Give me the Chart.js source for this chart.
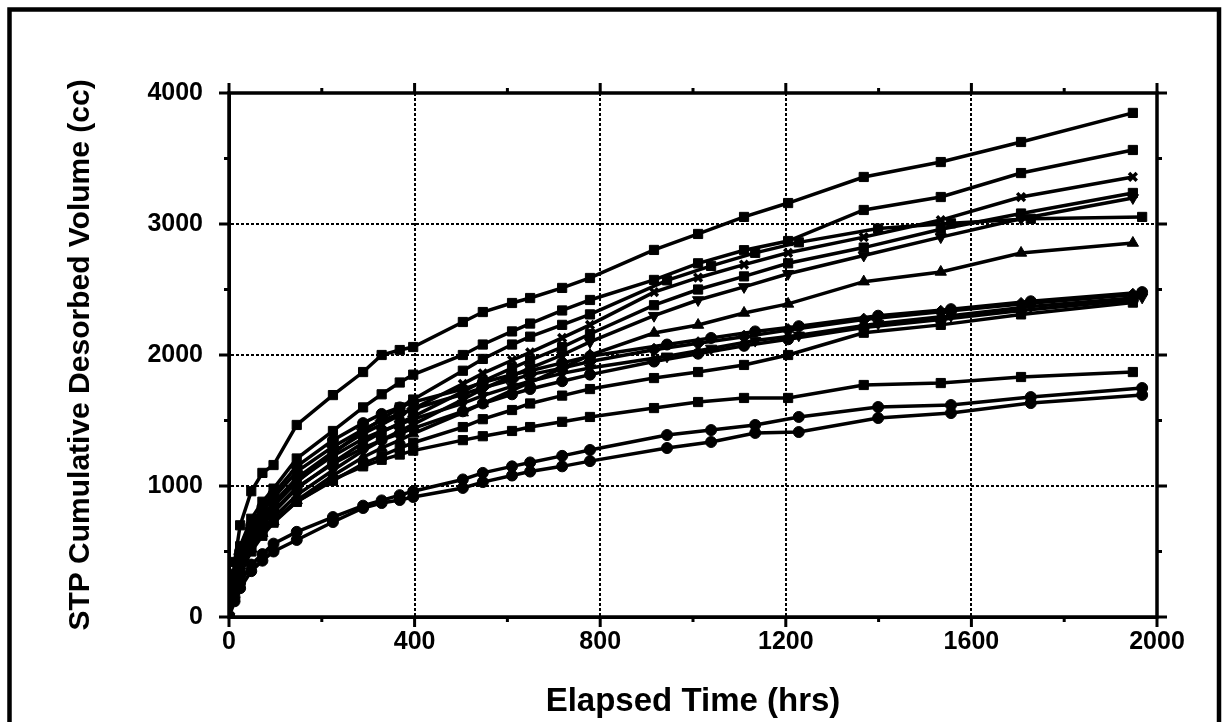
<!DOCTYPE html>
<html>
<head>
<meta charset="utf-8">
<title>STP Cumulative Desorbed Volume</title>
<script src="https://cdn.jsdelivr.net/npm/chart.js@4.4.1/dist/chart.umd.min.js"></script>
<style>
  html, body { margin: 0; padding: 0; background: #fff; }
</style>
</head>
<body>
<canvas id="chart_desorbedVolume" width="1227" height="722"></canvas>
<script>
// sample times (hrs)
var earlyHours = [0, 12, 24, 48, 72, 96, 146, 224, 289, 329, 368, 397, 504, 547, 610, 649, 718, 778];
var lateHoursA = [916, 1011, 1110, 1205, 1368, 1534, 1707, 1948];
var lateHoursB = [944, 1039, 1134, 1228, 1399, 1556, 1728, 1968];

// cumulative desorbed volume (cc), early part + late part
var seriesA  = [0, 420, 700, 960, 1100, 1160, 1466, 1694, 1870, 2000, 2038, 2061, 2252, 2328, 2397, 2435, 2512, 2588, 2802, 2924, 3054, 3160, 3359, 3473, 3626, 3848];
var seriesB  = [0, 330, 540, 750, 880, 980, 1210, 1420, 1600, 1700, 1790, 1850, 2000, 2080, 2180, 2240, 2340, 2420, 2573, 2700, 2800, 2870, 3107, 3206, 3389, 3565];
var seriesC  = [0, 250, 430, 640, 770, 870, 1060, 1260, 1400, 1470, 1540, 1590, 1780, 1860, 1960, 2020, 2130, 2230, 2480, 2590, 2690, 2780, 2900, 3030, 3206, 3359];
var seriesD  = [0, 220, 380, 580, 700, 800, 980, 1180, 1330, 1410, 1480, 1530, 1720, 1800, 1900, 1960, 2060, 2160, 2380, 2500, 2600, 2700, 2820, 2960, 3080, 3237];
var seriesE  = [0, 200, 350, 540, 660, 760, 930, 1120, 1270, 1350, 1420, 1470, 1660, 1740, 1840, 1900, 2000, 2100, 2300, 2420, 2520, 2620, 2760, 2900, 3040, 3199];
var seriesF  = [0, 240, 420, 620, 750, 850, 1030, 1250, 1420, 1510, 1600, 1660, 1880, 1970, 2080, 2140, 2230, 2310, 2570, 2680, 2780, 2860, 2965, 3005, 3040, 3054];
var seriesG  = [0, 200, 340, 520, 640, 730, 890, 1080, 1220, 1290, 1350, 1400, 1560, 1630, 1730, 1790, 1900, 2000, 2168, 2229, 2321, 2390, 2560, 2634, 2779, 2855];
var seriesH1 = [0, 300, 500, 700, 840, 940, 1150, 1350, 1480, 1550, 1600, 1640, 1740, 1790, 1850, 1880, 1940, 1990, 2080, 2130, 2180, 2220, 2300, 2350, 2410, 2480];
var seriesH2 = [0, 280, 480, 680, 810, 910, 1110, 1300, 1430, 1500, 1550, 1590, 1700, 1750, 1810, 1850, 1900, 1950, 2040, 2090, 2140, 2190, 2270, 2330, 2390, 2460];
var seriesH3 = [0, 260, 440, 640, 760, 850, 1040, 1230, 1360, 1420, 1470, 1510, 1630, 1690, 1760, 1800, 1860, 1900, 1990, 2050, 2110, 2150, 2240, 2300, 2370, 2440];
var seriesH4 = [0, 240, 400, 600, 720, 810, 990, 1170, 1290, 1350, 1400, 1440, 1570, 1630, 1700, 1740, 1800, 1850, 1950, 2010, 2070, 2120, 2210, 2270, 2340, 2420];
var seriesH5 = [0, 220, 360, 540, 650, 730, 880, 1040, 1170, 1230, 1290, 1330, 1450, 1510, 1580, 1630, 1690, 1740, 1824, 1870, 1924, 2000, 2170, 2230, 2310, 2400];
var seriesI  = [0, 200, 330, 500, 620, 720, 880, 1050, 1150, 1200, 1240, 1270, 1350, 1380, 1420, 1450, 1490, 1527, 1595, 1641, 1672, 1672, 1771, 1786, 1832, 1870];
var seriesJ  = [0, 150, 260, 400, 480, 560, 650, 763, 850, 890, 930, 960, 1050, 1100, 1150, 1180, 1230, 1275, 1389, 1427, 1466, 1527, 1603, 1618, 1679, 1748];
var seriesK  = [0, 120, 220, 350, 430, 500, 588, 725, 832, 870, 893, 916, 985, 1030, 1080, 1110, 1150, 1190, 1290, 1336, 1405, 1412, 1519, 1557, 1633, 1695];

var xTickLabels = [0, 400, 800, 1200, 1600, 2000];
var yTickLabels = [0, 1000, 2000, 3000, 4000];

var hoursA = earlyHours.concat(lateHoursA);
var hoursB = earlyHours.concat(lateHoursB);

// [values, time schedule, marker, radius, rotation]
var runs = [
  [seriesA, hoursA, 'rect', 6.5, 0],
  [seriesB, hoursA, 'rect', 6.5, 0],
  [seriesC, hoursA, 'crossRot', 5.5, 0],
  [seriesD, hoursA, 'rect', 6.5, 0],
  [seriesE, hoursA, 'triangle', 6.5, 180],
  [seriesF, hoursB, 'rect', 6.5, 0],
  [seriesG, hoursA, 'triangle', 6.5, 0],
  [seriesH1, hoursB, 'circle', 5.5, 0],
  [seriesH2, hoursA, 'rectRot', 6.5, 0],
  [seriesH3, hoursB, 'triangle', 6.5, 180],
  [seriesH4, hoursA, 'circle', 5.5, 0],
  [seriesH5, hoursA, 'rect', 6.5, 0],
  [seriesI, hoursA, 'rect', 6.5, 0],
  [seriesJ, hoursB, 'circle', 5.5, 0],
  [seriesK, hoursB, 'circle', 5.5, 0]
];

var datasets = runs.map(function (r, n) {
  return {
    label: 'run ' + (n + 1),
    data: r[0].map(function (v, i) { return { x: r[1][i], y: v }; }),
    borderColor: '#000',
    backgroundColor: '#000',
    borderWidth: 3.5,
    pointStyle: r[2],
    pointRadius: r[3],
    pointRotation: r[4],
    pointBackgroundColor: '#000',
    pointBorderColor: '#000',
    pointBorderWidth: r[2] === 'crossRot' ? 3.5 : 1,
    tension: 0
  };
});

var tickFont = { family: "'Liberation Sans', Arial, Helvetica, sans-serif", size: 25, weight: 'bold', lineHeight: 1 };

var frames = {
  id: 'frames',
  beforeDraw: function (chart) {
    var c = chart.ctx;
    c.save();
    c.fillStyle = '#fff';
    c.fillRect(0, 0, chart.width, chart.height);
    // scanned page frame
    c.strokeStyle = '#000';
    c.lineWidth = 4.5;
    c.beginPath();
    c.moveTo(9.5, chart.height);
    c.lineTo(9.5, 9.5);
    c.lineTo(1219, 9.5);
    c.lineTo(1219, chart.height);
    c.stroke();
    c.restore();
  },
  afterDraw: function (chart) {
    var c = chart.ctx, a = chart.chartArea;
    var xs = chart.scales.x, ys = chart.scales.y;
    c.save();
    c.strokeStyle = '#000';
    c.lineWidth = 3.5;
    c.strokeRect(a.left, a.top, a.right - a.left, a.bottom - a.top);
    c.lineWidth = 3;
    c.beginPath();
    xs.ticks.forEach(function (t) {
      var px = xs.getPixelForValue(t.value);
      var len = t.value % 400 === 0 ? 10 : 5;
      c.moveTo(px, a.bottom); c.lineTo(px, a.bottom + len);
      c.moveTo(px, a.top); c.lineTo(px, a.top - len);
    });
    ys.ticks.forEach(function (t) {
      var py = ys.getPixelForValue(t.value);
      var len = t.value % 1000 === 0 ? 10 : 5;
      c.moveTo(a.left - len, py); c.lineTo(a.left, py);
      c.moveTo(a.right, py); c.lineTo(a.right + len, py);
    });
    c.stroke();
    c.restore();
  }
};

var chart_desorbedVolume = new Chart(document.getElementById('chart_desorbedVolume'), {
  type: 'line',
  data: { datasets: datasets },
  options: {
    animation: false,
    responsive: false,
    layout: { padding: { left: 0, right: 70, top: 93, bottom: 0 } },
    plugins: {
      legend: { display: false },
      tooltip: { enabled: false }
    },
    scales: {
      x: {
        type: 'linear',
        min: 0,
        max: 2000,
        afterFit: function (s) { s.height = 105; },
        ticks: {
          stepSize: 200,
          autoSkip: false,
          maxRotation: 0,
          padding: 13,
          color: '#000',
          font: tickFont,
          callback: function (v) { return xTickLabels.indexOf(v) >= 0 ? String(v) : ''; }
        },
        grid: {
          drawTicks: false,
          lineWidth: 2,
          color: function (ctx) {
            return ctx.tick && xTickLabels.indexOf(ctx.tick.value) >= 0 ? '#000' : 'rgba(0,0,0,0)';
          }
        },
        border: { color: '#000', width: 3, dash: [3, 2] },
        title: {
          display: true,
          text: 'Elapsed Time (hrs)',
          color: '#000',
          padding: { top: 0, bottom: 4 },
          font: { family: "'Liberation Sans', Arial, Helvetica, sans-serif", size: 33, weight: 'bold', lineHeight: 1 }
        }
      },
      y: {
        type: 'linear',
        min: 0,
        max: 4000,
        afterFit: function (s) { s.width = 229; },
        ticks: {
          stepSize: 500,
          autoSkip: false,
          padding: 26,
          color: '#000',
          font: tickFont,
          callback: function (v) { return yTickLabels.indexOf(v) >= 0 ? String(v) : ''; }
        },
        grid: {
          drawTicks: false,
          lineWidth: 2,
          color: function (ctx) {
            return ctx.tick && yTickLabels.indexOf(ctx.tick.value) >= 0 ? '#000' : 'rgba(0,0,0,0)';
          }
        },
        border: { color: '#000', width: 3, dash: [3, 2] },
        title: {
          display: true,
          text: 'STP Cumulative Desorbed Volume (cc)',
          color: '#000',
          padding: { top: 66, bottom: 0 },
          font: { family: "'Liberation Sans', Arial, Helvetica, sans-serif", size: 30, weight: 'bold', lineHeight: 1 }
        }
      }
    }
  },
  plugins: [frames]
});
</script>
</body>
</html>
